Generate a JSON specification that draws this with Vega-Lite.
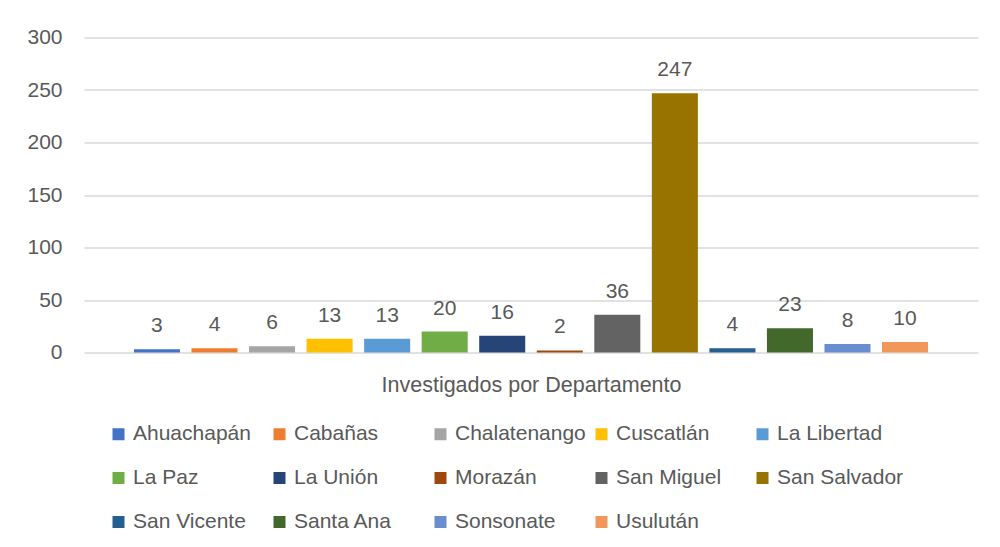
{
  "$schema": "https://vega.github.io/schema/vega-lite/v6.json",
  "width": 894,
  "height": 315,
  "autosize": "none",
  "padding": {"left": 84, "top": 37.5, "right": 22, "bottom": 194.5},
  "background": "white",
  "data": {
    "values": [
      {"Departamento": "Ahuachapán", "Investigados": 3},
      {"Departamento": "Cabañas", "Investigados": 4},
      {"Departamento": "Chalatenango", "Investigados": 6},
      {"Departamento": "Cuscatlán", "Investigados": 13},
      {"Departamento": "La Libertad", "Investigados": 13},
      {"Departamento": "La Paz", "Investigados": 20},
      {"Departamento": "La Unión", "Investigados": 16},
      {"Departamento": "Morazán", "Investigados": 2},
      {"Departamento": "San Miguel", "Investigados": 36},
      {"Departamento": "San Salvador", "Investigados": 247},
      {"Departamento": "San Vicente", "Investigados": 4},
      {"Departamento": "Santa Ana", "Investigados": 23},
      {"Departamento": "Sonsonate", "Investigados": 8},
      {"Departamento": "Usulután", "Investigados": 10}
    ]
  },
  "encoding": {
    "x": {
      "field": "Departamento",
      "type": "nominal",
      "sort": null,
      "scale": {"paddingInner": 0.2, "paddingOuter": 0.868},
      "axis": {
        "labels": false,
        "ticks": false,
        "domain": false,
        "title": "Investigados por Departamento",
        "titlePadding": 22
      }
    },
    "y": {
      "field": "Investigados",
      "type": "quantitative",
      "scale": {"domain": [0, 300]},
      "axis": {
        "values": [0, 50, 100, 150, 200, 250, 300],
        "title": null,
        "ticks": false,
        "domain": false,
        "labelPadding": 22,
        "gridColor": "#D9D9D9",
        "gridWidth": 1.3
      }
    }
  },
  "layer": [
    {
      "mark": {"type": "bar"},
      "encoding": {
        "color": {
          "field": "Departamento",
          "type": "nominal",
          "scale": {
            "domain": ["Ahuachapán", "Cabañas", "Chalatenango", "Cuscatlán", "La Libertad", "La Paz", "La Unión", "Morazán", "San Miguel", "San Salvador", "San Vicente", "Santa Ana", "Sonsonate", "Usulután"],
            "range": ["#4472C4", "#ED7D31", "#A5A5A5", "#FFC000", "#5B9BD5", "#70AD47", "#264478", "#9E480E", "#636363", "#997300", "#255E91", "#43682B", "#698ED0", "#F1975A"]
          },
          "legend": {
            "title": null,
            "orient": "none",
            "legendX": 24,
            "legendY": 386,
            "direction": "horizontal",
            "columns": 5,
            "gridAlign": "all",
            "columnPadding": 5,
            "rowPadding": 22,
            "symbolType": "square",
            "symbolSize": 144,
            "symbolStrokeWidth": 0,
            "labelOffset": 4,
            "labelFontSize": 21,
            "labelColor": "#595959",
            "labelFont": "Liberation Sans",
            "padding": 0
          }
        }
      }
    },
    {
      "mark": {"type": "text", "baseline": "alphabetic", "dy": -17, "fontSize": 21, "color": "#595959", "font": "Liberation Sans"},
      "encoding": {
        "text": {"field": "Investigados", "type": "quantitative"}
      }
    }
  ],
  "config": {
    "view": {"stroke": null},
    "axis": {
      "labelFont": "Liberation Sans",
      "labelFontSize": 21,
      "labelColor": "#595959",
      "titleFont": "Liberation Sans",
      "titleFontSize": 21.5,
      "titleFontWeight": "normal",
      "titleColor": "#595959"
    }
  }
}
